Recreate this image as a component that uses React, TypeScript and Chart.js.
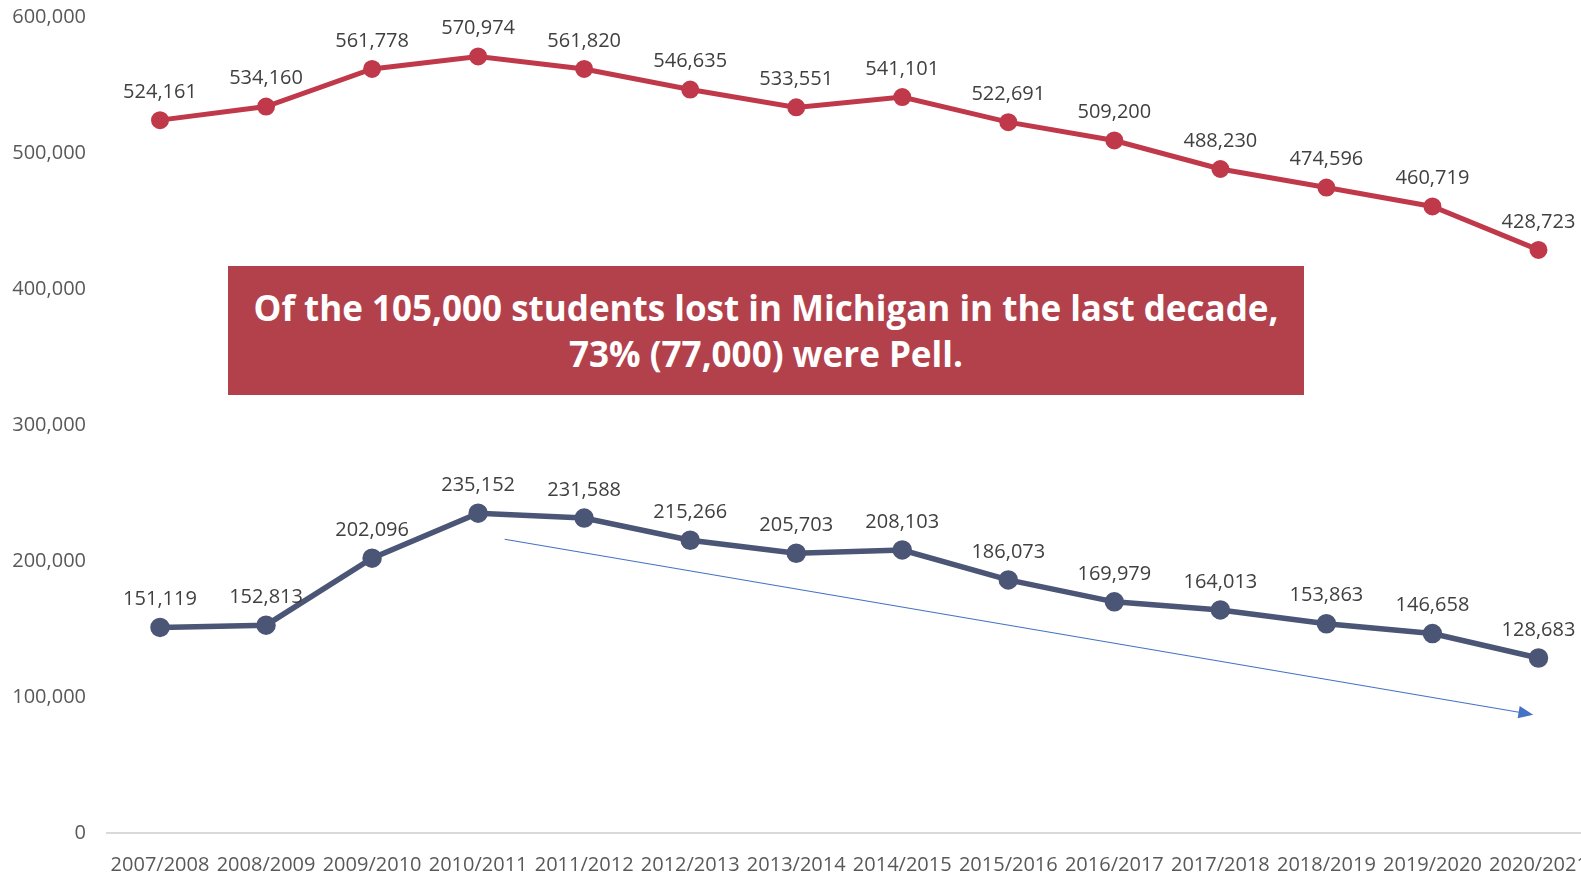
import React, { useEffect, useRef } from "react";
import { Chart, registerables } from "chart.js";

Chart.register(...registerables);

const years = [
  "2007/2008", "2008/2009", "2009/2010", "2010/2011", "2011/2012", "2012/2013", "2013/2014",
  "2014/2015", "2015/2016", "2016/2017", "2017/2018", "2018/2019", "2019/2020", "2020/2021",
];
const totalStudents = [
  524161, 534160, 561778, 570974, 561820, 546635, 533551, 541101, 522691, 509200, 488230, 474596, 460719, 428723,
];
const pellStudents = [
  151119, 152813, 202096, 235152, 231588, 215266, 205703, 208103, 186073, 169979, 164013, 153863, 146658, 128683,
];
const yTicks = [0, 100000, 200000, 300000, 400000, 500000, 600000];
const trendArrow = { from: { x: 3.25, y: 216000 }, to: { x: 12.95, y: 87000 } };
const calloutLines = [
  "Of the 105,000 students lost in Michigan in the last decade,",
  "73% (77,000) were Pell.",
];

const fmt = (v: number) => v.toLocaleString("en-US");

const labelPlugin = {
  id: "pointLabels",
  afterDatasetsDraw(chart: any) {
    const ctx = chart.ctx;
    ctx.save();
    ctx.font = "20px 'Open Sans'";
    ctx.fillStyle = "#404040";
    ctx.textAlign = "center";
    ctx.textBaseline = "middle";
    chart.data.datasets.forEach((ds: any, i: number) => {
      const meta = chart.getDatasetMeta(i);
      meta.data.forEach((pt: any, j: number) => {
        ctx.fillText(fmt(ds.data[j]), pt.x, pt.y - 28);
      });
    });
    ctx.restore();
  },
};

const arrowPlugin = {
  id: "trendArrow",
  afterDatasetsDraw(chart: any) {
    const xs = chart.scales.x;
    const ys = chart.scales.y;
    const x1 = xs.getPixelForValue(trendArrow.from.x);
    const y1 = ys.getPixelForValue(trendArrow.from.y);
    const x2 = xs.getPixelForValue(trendArrow.to.x);
    const y2 = ys.getPixelForValue(trendArrow.to.y);
    const ctx = chart.ctx;
    const ang = Math.atan2(y2 - y1, x2 - x1);
    const head = 16;
    ctx.save();
    ctx.strokeStyle = "#4472C4";
    ctx.fillStyle = "#4472C4";
    ctx.lineWidth = 1.2;
    ctx.beginPath();
    ctx.moveTo(x1, y1);
    ctx.lineTo(x2 - Math.cos(ang) * head * 0.8, y2 - Math.sin(ang) * head * 0.8);
    ctx.stroke();
    ctx.beginPath();
    ctx.moveTo(x2, y2);
    ctx.lineTo(x2 - head * Math.cos(ang - 0.4), y2 - head * Math.sin(ang - 0.4));
    ctx.lineTo(x2 - head * Math.cos(ang + 0.4), y2 - head * Math.sin(ang + 0.4));
    ctx.closePath();
    ctx.fill();
    ctx.restore();
  },
};

export default function App() {
  const ref = useRef<HTMLCanvasElement>(null);

  useEffect(() => {
    document.body.style.margin = "0";
    document.body.style.overflow = "hidden";
    const chart = new Chart(ref.current!, {
      type: "line",
      data: {
        labels: years,
        datasets: [
          {
            label: "All students",
            data: totalStudents,
            borderColor: "#C0394A",
            backgroundColor: "#C0394A",
            borderWidth: 5,
            pointRadius: 6.5,
            pointHoverRadius: 6.5,
            tension: 0,
          },
          {
            label: "Pell students",
            data: pellStudents,
            borderColor: "#4B5575",
            backgroundColor: "#4B5575",
            borderWidth: 5.5,
            pointRadius: 7,
            pointHoverRadius: 7,
            tension: 0,
          },
        ],
      },
      options: {
        animation: false,
        responsive: false,
        layout: { padding: { top: 17, right: 12, left: 0, bottom: 0 } },
        plugins: { legend: { display: false }, tooltip: { enabled: false } },
        scales: {
          x: {
            offset: true,
            grid: { display: false, drawTicks: false },
            border: { display: true, color: "#D9D9D9", width: 2 },
            ticks: {
              autoSkip: false,
              maxRotation: 0,
              minRotation: 0,
              padding: 20,
              color: "#595959",
              font: { family: "'Open Sans'", size: 20 },
            },
            afterFit(scale: any) {
              scale.height = 41;
              scale.paddingLeft = 0;
              scale.paddingRight = 0;
            },
          },
          y: {
            min: 0,
            max: 600000,
            afterBuildTicks(scale: any) {
              scale.ticks = yTicks.map((v) => ({ value: v }));
            },
            grid: { display: false, drawTicks: false },
            border: { display: false },
            ticks: {
              padding: 21,
              color: "#595959",
              font: { family: "'Open Sans'", size: 20 },
              callback: (v: any) => fmt(Number(v)),
            },
            afterFit(scale: any) {
              scale.width = 107;
              scale.paddingTop = 0;
              scale.paddingBottom = 0;
            },
          },
        },
      },
      plugins: [labelPlugin, arrowPlugin],
    });
    return () => chart.destroy();
  }, []);

  return (
    <div style={{ position: "fixed", left: 0, top: 0, width: 1581, height: 874, overflow: "hidden", background: "#fff" }}>
      <canvas ref={ref} width={1604} height={874} style={{ display: "block", width: 1604, height: 874 }} />
      <div
        style={{
          position: "absolute",
          left: 228,
          top: 266,
          width: 1076,
          height: 129,
          background: "#B3414C",
          color: "#fff",
          fontFamily: "'Open Sans', sans-serif",
          fontWeight: 700,
          fontSize: 35,
          lineHeight: "46px",
          textAlign: "center",
          display: "flex",
          flexDirection: "column",
          justifyContent: "center",
        }}
      >
        {calloutLines.map((l) => (
          <div key={l}>{l}</div>
        ))}
      </div>
    </div>
  );
}
